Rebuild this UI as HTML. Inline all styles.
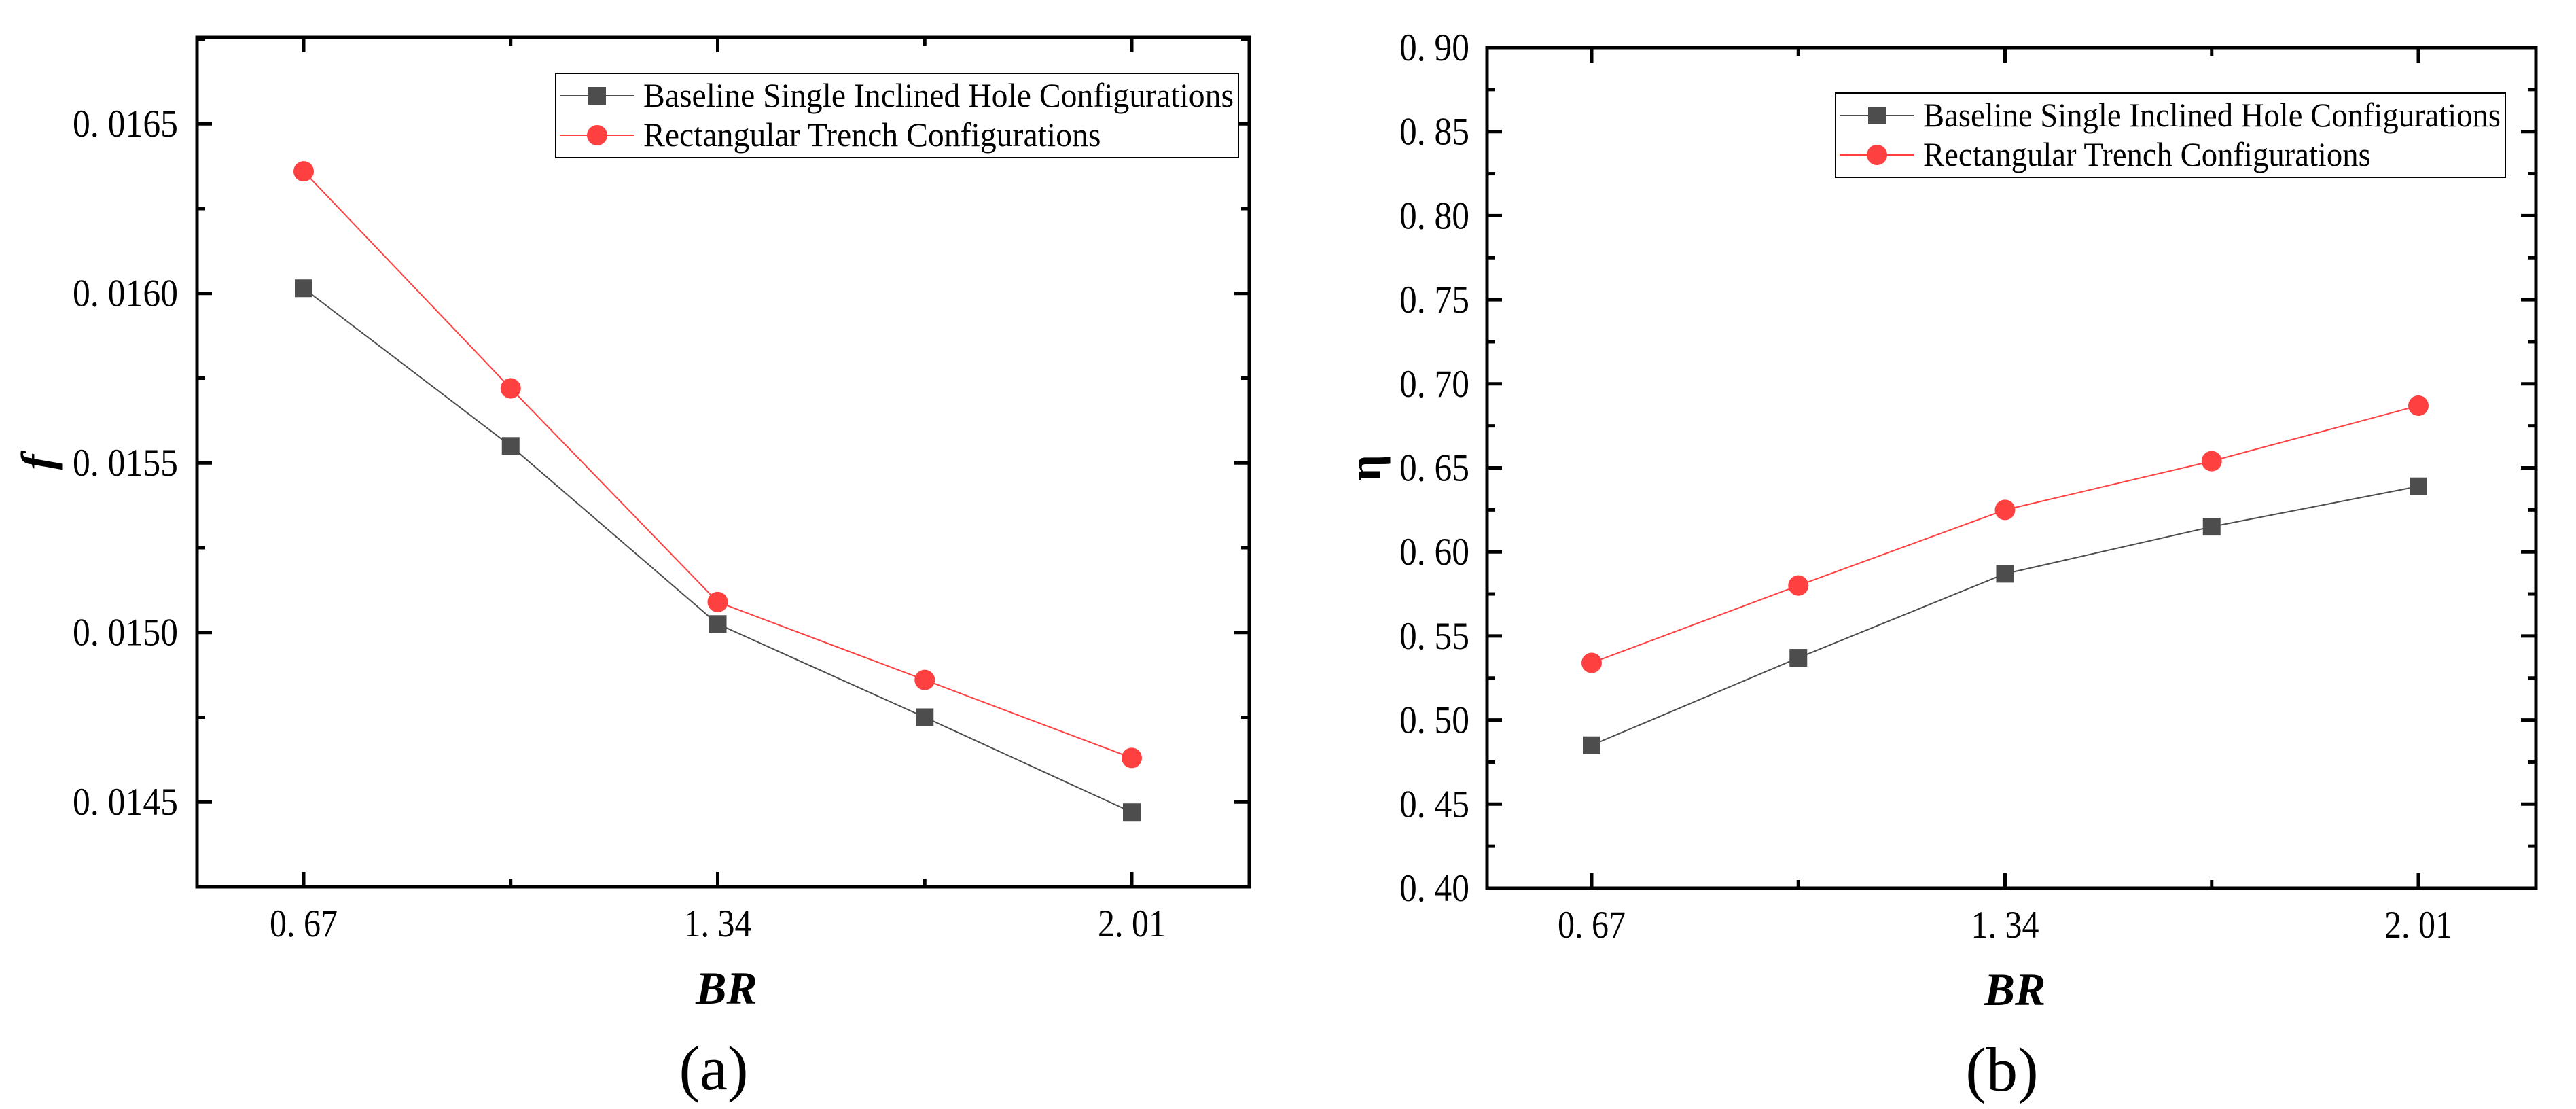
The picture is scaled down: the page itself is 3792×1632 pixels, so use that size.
<!DOCTYPE html>
<html><head><meta charset="utf-8"><style>
html,body{margin:0;padding:0;background:#fff;}
svg{display:block;font-family:"Liberation Serif","Noto Serif CJK SC",serif;}
text{font-family:"Liberation Serif","Noto Serif CJK SC",serif;fill:#000;}
</style></head><body>
<svg id="fig" width="3792" height="1632" viewBox="0 0 3792 1632" xmlns="http://www.w3.org/2000/svg" font-family="'Liberation Serif', serif"></svg>
<script>
const categories = ["0.67", "", "1.34", "", "2.01"];
const fBaseline = [0.016015, 0.01555, 0.015025, 0.01475, 0.01447];
const fTrench = [0.01636, 0.01572, 0.01509, 0.01486, 0.01463];
const etaBaseline = [0.485, 0.537, 0.587, 0.615, 0.639];
const etaTrench = [0.534, 0.580, 0.625, 0.654, 0.687];
const fTicks = [0.0145, 0.0150, 0.0155, 0.0160, 0.0165];
const fTickLabels = ["0. 0145", "0. 0150", "0. 0155", "0. 0160", "0. 0165"];
const etaTicks = [0.40, 0.45, 0.50, 0.55, 0.60, 0.65, 0.70, 0.75, 0.80, 0.85, 0.90];
const etaTickLabels = ["0. 40", "0. 45", "0. 50", "0. 55", "0. 60", "0. 65", "0. 70", "0. 75", "0. 80", "0. 85", "0. 90"];
const xTickLabels = ["0. 67", "", "1. 34", "", "2. 01"];
const legendNames = ["Baseline Single Inclined Hole Configurations", "Rectangular Trench Configurations"];

const NS = "http://www.w3.org/2000/svg";
const svg = document.getElementById("fig");
function mk(tag, attrs, parent) {
  const e = document.createElementNS(NS, tag);
  for (const k in attrs) e.setAttribute(k, attrs[k]);
  if (tag === "text") e.setAttribute("font-family", "'Liberation Serif', serif");
  (parent || svg).appendChild(e);
  return e;
}

function panel(cfg) {
  const g = mk("g", {});
  
  
  const {L, R, T, B, x0, x1, ymin, ymax} = cfg;
  const xs = i => x0 + (x1 - x0) * i / (categories.length - 1);
  const ys = v => B - (v - ymin) / (ymax - ymin) * (B - T);
  const fr = mk("rect", {x: L, y: T, width: R - L, height: B - T, fill: "none", stroke: "#000", "stroke-width": 5}, g);
  
  
  categories.forEach((c, i) => {
    const x = xs(i);
    const len = (i % 2 === 0) ? 22 : 12;
    mk("line", {x1: x, y1: B, x2: x, y2: B - len, stroke: "#000", "stroke-width": 5}, g);
    mk("line", {x1: x, y1: T, x2: x, y2: T + len, stroke: "#000", "stroke-width": 5}, g);
    if (xTickLabels[i]) {
      const t = mk("text", {x: x, y: B + 73, "text-anchor": "middle", "font-size": 57, textLength: 100, lengthAdjust: "spacingAndGlyphs"}, g);
      t.textContent = xTickLabels[i];
      
      
    }
  });
  const ticks = cfg.ticks, labels = cfg.labels;
  const step = ticks[1] - ticks[0];
  ticks.forEach((v, i) => {
    const y = ys(v);
    mk("line", {x1: L, y1: y, x2: L + 22, y2: y, stroke: "#000", "stroke-width": 5}, g);
    mk("line", {x1: R, y1: y, x2: R - 22, y2: y, stroke: "#000", "stroke-width": 5}, g);
    const t = mk("text", {x: cfg.labelRight, y: y + 19, "text-anchor": "end", "font-size": 57, textLength: cfg.labelW, lengthAdjust: "spacingAndGlyphs"}, g);
    t.textContent = labels[i];
    
    
  });
  for (let v = ticks[0] - step / 2; v <= ymax + 1e-9; v += step) {
    if (v < ymin - 1e-9) continue;
    const y = ys(v);
    mk("line", {x1: L, y1: y, x2: L + 12, y2: y, stroke: "#000", "stroke-width": 5}, g);
    mk("line", {x1: R, y1: y, x2: R - 12, y2: y, stroke: "#000", "stroke-width": 5}, g);
  }
  const series = [
    {vals: cfg.s1, color: "#4d4d4d", shape: "sq", name: "series-baseline"},
    {vals: cfg.s2, color: "#ff4040", shape: "ci", name: "series-trench"}
  ];
  series.forEach(s => {
    const pts = s.vals.map((v, i) => xs(i) + "," + ys(v)).join(" ");
    const pl = mk("polyline", {points: pts, fill: "none", stroke: s.color, "stroke-width": 2}, g);
    
    
    s.vals.forEach((v, i) => {
      let m;
      if (s.shape === "sq") m = mk("rect", {x: xs(i) - 13, y: ys(v) - 13, width: 26, height: 26, fill: s.color}, g);
      else m = mk("circle", {cx: xs(i), cy: ys(v), r: 15, fill: s.color}, g);
      
      
    });
  });
  const lg = mk("g", {}, g);
  
  
  const Lg = cfg.legend;
  mk("rect", {x: Lg.x, y: Lg.y, width: Lg.w, height: Lg.h, fill: "#fff", stroke: "#000", "stroke-width": 2}, lg);
  series.forEach((s, k) => {
    const ly = Lg.y + 33 + k * 58;
    const en = mk("g", {}, lg);
    
    
    mk("line", {x1: Lg.x + 6, y1: ly, x2: Lg.x + 116, y2: ly, stroke: s.color, "stroke-width": 2}, en);
    if (s.shape === "sq") mk("rect", {x: Lg.x + 61 - 13, y: ly - 13, width: 26, height: 26, fill: s.color}, en);
    else mk("circle", {cx: Lg.x + 61, cy: ly, r: 15, fill: s.color}, en);
    const t = mk("text", {x: Lg.x + 129, y: ly + 16, "font-size": 50, textLength: k === 0 ? Lg.w - 136 : (Lg.w - 136) * 0.775, lengthAdjust: "spacingAndGlyphs"}, en);
    t.textContent = legendNames[k];
  });
  const xt = mk("text", {x: (L + R) / 2 + 5, y: B + 172, "text-anchor": "middle", "font-size": 68, "font-weight": "bold", "font-style": "italic"}, g);
  xt.textContent = "BR";
  
  
  const yt = mk("text", {x: 0, y: 0, "text-anchor": "middle", "font-size": 68, "font-weight": "bold", "font-style": cfg.yItalic ? "italic" : "normal", transform: "translate(" + cfg.yTitleX + "," + ((T + B) / 2) + ") rotate(-90)"}, g);
  yt.textContent = cfg.yTitle;
  
  
  const cap = mk("text", {x: (L + R) / 2 - 14, y: B + 298, "text-anchor": "middle", "font-size": 92}, g);
  cap.textContent = cfg.caption;
  
  
}

panel({name: "panel-a-friction", L: 290, R: 1839, T: 55, B: 1305, x0: 447, x1: 1666,
  ymin: 0.01425, ymax: 0.016755, ticks: fTicks, labels: fTickLabels, labelRight: 262, labelW: 155,
  s1: fBaseline, s2: fTrench, legend: {x: 818, y: 108, w: 1005, h: 124},
  yTitle: "f", yItalic: true, yTitleX: 78, caption: "(a)"});
panel({name: "panel-b-effectiveness", L: 2189, R: 3733, T: 70, B: 1307, x0: 2343, x1: 3560,
  ymin: 0.40, ymax: 0.90, ticks: etaTicks, labels: etaTickLabels, labelRight: 2163, labelW: 103,
  s1: etaBaseline, s2: etaTrench, legend: {x: 2702, y: 137, w: 986, h: 124},
  yTitle: "η", yItalic: false, yTitleX: 2032, caption: "(b)"});
</script>
</body></html>
